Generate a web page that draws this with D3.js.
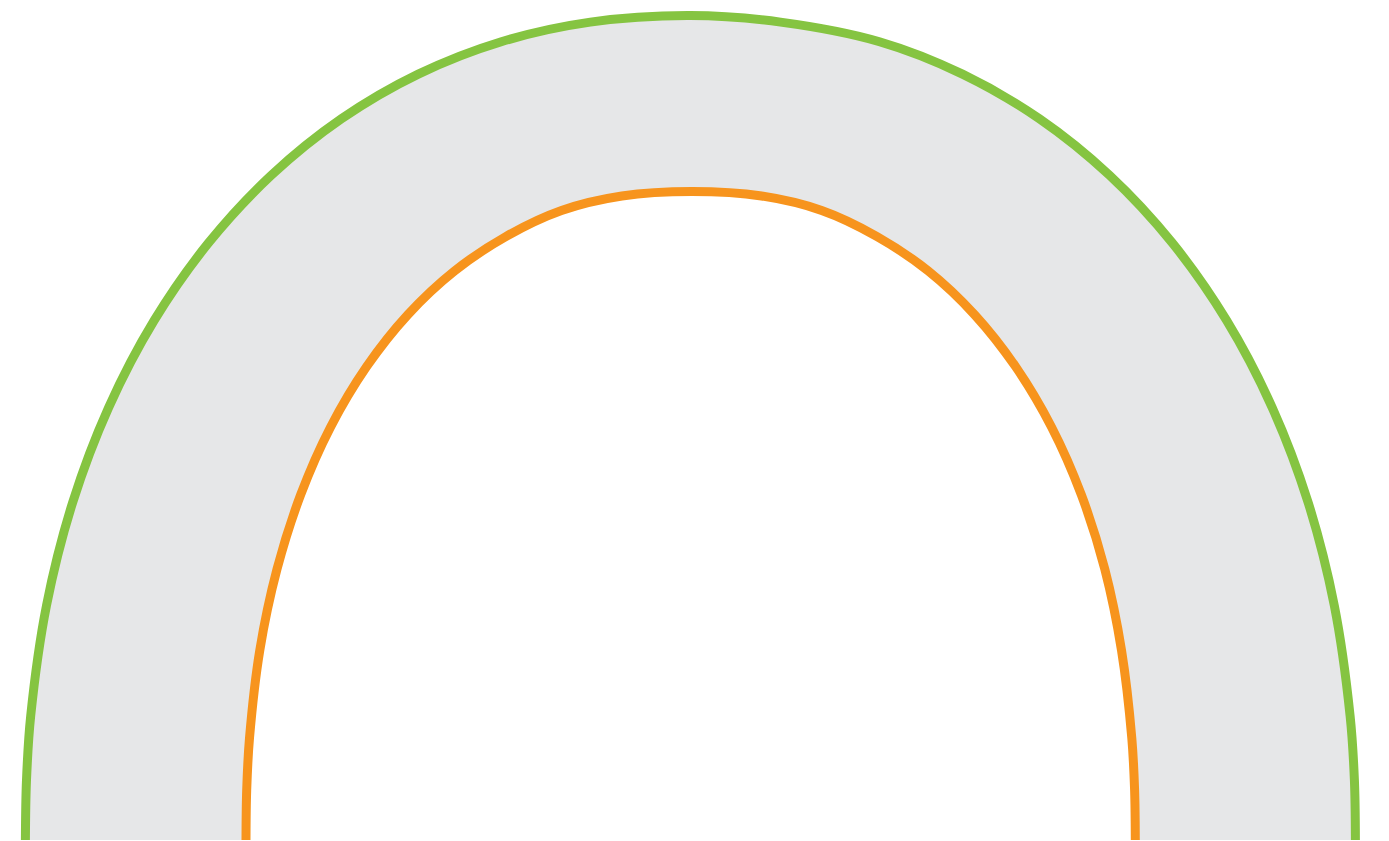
<!DOCTYPE html>
<html>
<head>
<meta charset="utf-8">
<script src="https://cdn.jsdelivr.net/npm/d3@7/dist/d3.min.js"></script>
<style>
html,body{margin:0;padding:0;background:#fff;overflow:hidden;}
svg{display:block;}
</style>
</head>
<body>
<svg id="chart" width="1389" height="841"></svg>
<script>
// Outer boundary (green): horizontal position and height above the baseline
const outerX = [25.4, 26.5, 30.7, 46.5, 72.6, 108.7, 154.2, 208.7, 271.3, 341.4, 418.3, 501.3, 590.3, 690.4,
                780.5, 879.5, 962.5, 1039.4, 1109.5, 1172.1, 1226.6, 1272.1, 1308.2, 1334.3, 1350.1, 1354.4, 1355.4];
const outerH = [0, 60, 124.1, 234.5, 337.4, 432.7, 519.6, 597.3, 664.7, 721.2, 765.9, 798.3, 817.9, 824.5,
                817.9, 798.3, 765.9, 721.2, 664.7, 597.3, 519.6, 432.7, 337.4, 234.5, 124.1, 60, 0];
// Inner boundary (orange)
const innerX = [246, 246.7, 249.5, 259.8, 277.0, 300.7, 330.6, 366.5, 407.9, 454.5, 505.8, 561.5, 621.9, 692,
                761.6, 821.7, 877.1, 928.3, 974.5, 1015.7, 1051.5, 1081.3, 1104.8, 1121.5, 1131.8, 1134.6, 1135.3];
const innerH = [0, 50, 101.9, 189.8, 270.8, 345.3, 413.0, 473.2, 525.4, 569.0, 603.4, 629.5, 644, 648.5,
                644, 629.5, 603.4, 569.0, 525.4, 473.2, 413.0, 345.3, 270.8, 189.8, 101.9, 50, 0];

const W = 1389, H = 841;
const x = d3.scaleLinear().domain([0, 1389]).range([0, W]);
const y = d3.scaleLinear().domain([0, 840]).range([840, 0]);

const outer = outerX.map((v, i) => [v, outerH[i]]);
const inner = innerX.map((v, i) => [v, innerH[i]]);

const line = d3.line().x(d => x(d[0])).y(d => y(d[1])).curve(d3.curveCatmullRom.alpha(0.5));

const svg = d3.select("#chart");

const areaPath = line(outer) + "L" + line(inner.slice().reverse()).slice(1) + "Z";
svg.append("path").attr("d", areaPath).attr("fill", "#e6e7e8").attr("stroke", "none");

svg.append("path").attr("d", line(outer)).attr("fill", "none")
  .attr("stroke", "#85c441").attr("stroke-width", 9);
svg.append("path").attr("d", line(inner)).attr("fill", "none")
  .attr("stroke", "#f7941d").attr("stroke-width", 9);
</script>
</body>
</html>
